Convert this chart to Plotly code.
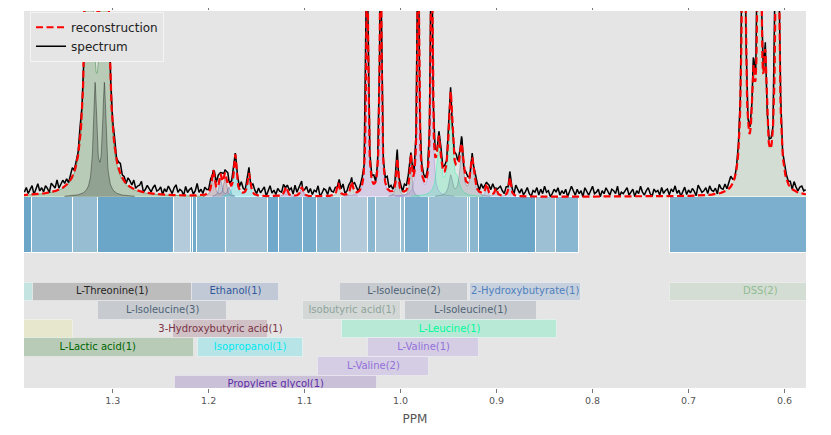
import numpy as np
import plotly.graph_objects as go

# peaks: metabolite, centre (ppm), height, half width (ppm)
peak_metab = [
    "L-Lactic acid(1)", "L-Lactic acid(1)",
    "L-Threonine(1)", "L-Threonine(1)",
    "3-Hydroxybutyric acid(1)", "3-Hydroxybutyric acid(1)",
    "Ethanol(1)", "Ethanol(1)",
    "Isopropanol(1)", "Isopropanol(1)",
    "Propylene glycol(1)", "Propylene glycol(1)",
    "Isobutyric acid(1)", "Isobutyric acid(1)",
    "L-Valine(2)", "L-Valine(2)",
    "L-Isoleucine(2)", "L-Isoleucine(2)",
    "L-Valine(1)", "L-Valine(1)",
    "L-Leucine(1)", "L-Leucine(1)", "L-Leucine(1)",
    "L-Isoleucine(1)", "L-Isoleucine(1)", "L-Isoleucine(1)",
    "2-Hydroxybutyrate(1)", "2-Hydroxybutyrate(1)", "2-Hydroxybutyrate(1)",
    "DSS(2)", "DSS(2)", "DSS(2)", "DSS(2)", "DSS(2)",
]
peak_ppm = [
    1.3247, 1.3085,
    1.3184, 1.3087,
    1.1952, 1.1830,
    1.1877, 1.1789,
    1.1723, 1.1580,
    1.1195, 1.1031,
    1.0650, 1.0510,
    1.0348, 1.0208,
    1.0035, 0.9893,
    0.9817, 0.9677,
    0.9601, 0.9479, 0.9406,
    0.9479, 0.9365, 0.9254,
    0.9104, 0.9007, 0.8862,
    0.6426, 0.6325, 0.6262, 0.6200, 0.6075,
]
peak_height = [
    2.6, 2.6,
    0.59, 0.59,
    0.13, 0.10,
    0.095, 0.05,
    0.215, 0.12,
    0.05, 0.05,
    0.07, 0.07,
    1.5, 1.5,
    0.19, 0.19,
    1.5, 1.5,
    0.27, 0.42, 0.06,
    0.11, 0.23, 0.19,
    0.06, 0.04, 0.10,
    2.0, 0.45, 2.0, 0.55, 2.0,
]
peak_hwhm = [
    0.0031, 0.0031,
    0.0021, 0.0021,
    0.0018, 0.0018,
    0.0017, 0.0017,
    0.0017, 0.0017,
    0.0017, 0.0017,
    0.0015, 0.0015,
    0.00105, 0.00105,
    0.00125, 0.00125,
    0.00105, 0.00105,
    0.0026, 0.0026, 0.0026,
    0.0022, 0.0022, 0.0022,
    0.0013, 0.0013, 0.0013,
    0.0019, 0.0019, 0.0019, 0.0019, 0.0019,
]

# residual noise of the measured spectrum, one value per 0.002 ppm from 1.392 down
noise = [
    4, 7, 3, 6, 8, 2, 5, 9, 4, 6, 3, 7, 5, 2, 8, 6, 4, 9, 3, 5, 7, 4, 6, 2,
    5, 8, 3, 6, 4, 10, 5, 3, 7, 6, 2, 5, 8, 4, 6, 3, 9, 5, 4, 7, 2, 6, 5, 8,
    3, 6, 9, 4, 5, 2, 7, 6, 4, 8, 3, 5, 6, 9, 2, 4, 7, 5, 3, 6, 8, 4, 5, 7,
    2, 6, 4, 8, 5, 3, 7, 9, 4, 6, 5, 2, 8, 4, 6, 7, 3, 5, 10, 4, 6, 3, 7, 5,
    4, 8, 2, 6, 5, 9, 3, 7, 4, 6, 8, 2, 5, 7, 3, 6, 4, 9, 5, 3, 7, 6, 2, 8,
    5, 3, 7, 4, 6, 8, 2, 5, 9, 4, 6, 3, 7, 5, 4, 8, 2, 6, 5, 7, 3, 9, 4, 6,
    6, 2, 5, 8, 4, 7, 3, 6, 5, 9, 2, 4, 7, 6, 3, 8, 5, 4, 6, 2, 7, 5, 9, 3,
    4, 7, 5, 3, 8, 6, 2, 5, 7, 4, 9, 3, 6, 5, 8, 2, 4, 7, 6, 3, 5, 10, 4, 6,
    3, 5, 8, 4, 6, 2, 7, 5, 9, 3, 6, 4, 8, 5, 2, 7, 6, 4, 5, 9, 3, 6, 7, 2,
    5, 8, 4, 6, 3, 7, 5, 2, 6, 9, 4, 5, 7, 3, 8, 6, 2, 5, 4, 7, 6, 3, 8, 5,
    6, 3, 7, 5, 9, 4, 2, 6, 8, 5, 3, 7, 4, 6, 5, 2, 9, 6, 4, 7, 3, 5, 8, 4,
    2, 6, 5, 8, 3, 7, 4, 9, 5, 6, 2, 4, 7, 5, 8, 3, 6, 4, 7, 2, 5, 9, 6, 3,
    7, 4, 6, 2, 8, 5, 3, 6, 9, 4, 5, 7, 2, 6, 4, 8, 5, 3, 7, 6, 4, 9, 2, 5,
    4, 6, 8, 3, 5, 7, 2, 6, 4, 9, 5, 3, 6, 8, 4, 2, 7, 5, 6, 3, 8, 4, 6, 7,
    3, 7, 5, 9, 4, 6, 2, 5, 8, 3, 6, 4, 7, 5, 2, 9, 6, 4, 5, 7, 3, 8, 5, 4,
    6, 2, 8, 5, 4, 7, 3, 6, 9, 5, 2, 4, 7, 6, 3, 5, 8, 4, 6, 2, 7, 5, 3, 9,
    5, 4, 7, 3, 6, 8, 2, 5, 6, 4, 9, 3, 7, 5, 4, 6, 2, 8, 5, 3, 6, 7, 4, 5,
]

# integration bins under the spectrum
bin_left = [1.400, 1.3838, 1.3414, 1.3156, 1.2365, 1.2184, 1.2164, 1.2125,
            1.1820, 1.1385, 1.1265, 1.1021, 1.0869, 1.0622, 1.0337, 1.0260,
            1.0000, 0.9952, 0.9705, 0.9302, 0.9275, 0.9184, 0.8585, 0.8380,
            0.7195]
bin_right = [1.3838, 1.3414, 1.3156, 1.2365, 1.2184, 1.2164, 1.2125, 1.1820,
             1.1385, 1.1265, 1.1021, 1.0869, 1.0622, 1.0337, 1.0260, 1.0000,
             0.9952, 0.9705, 0.9302, 0.9275, 0.9184, 0.8585, 0.8380, 0.8140,
             0.5700]
bin_weight = [0.69, 0.52, 0.44, 0.69, 0.28, 0.60, 0.65, 0.52, 0.40, 0.66,
              0.60, 0.62, 0.50, 0.28, 0.50, 0.35, 0.42, 0.60, 0.40, 0.45,
              0.50, 0.69, 0.40, 0.52, 0.60]

# metabolite windows (label rows)
box_name = ["", "L-Threonine(1)", "Ethanol(1)", "L-Isoleucine(2)",
            "2-Hydroxybutyrate(1)", "DSS(2)",
            "L-Isoleucine(3)", "Isobutyric acid(1)", "L-Isoleucine(1)",
            "", "3-Hydroxybutyric acid(1)", "L-Leucine(1)",
            "L-Lactic acid(1)", "Isopropanol(1)", "L-Valine(1)",
            "L-Valine(2)",
            "Propylene glycol(1)"]
box_left = [1.450, 1.3833, 1.2177, 1.0632, 0.9278, 0.7195,
            1.3150, 1.1015, 0.9955,
            1.450, 1.2369, 1.0608,
            1.4163, 1.2115, 1.0338,
            1.0865,
            1.2351]
box_right = [1.3833, 1.2177, 1.1265, 0.9299, 0.8125, 0.5309,
             1.1809, 0.9997, 0.8583,
             1.3410, 1.1385, 0.8372,
             1.2150, 1.1021, 0.9184,
             0.9702,
             1.0250]
box_row = [0, 0, 0, 0, 0, 0,
           1, 1, 1,
           2, 2, 2,
           3, 3, 3,
           4,
           5]

tick_vals = [1.3, 1.2, 1.1, 1.0, 0.9, 0.8, 0.7, 0.6]

# ---- styling ----
metab_color = {
    "L-Lactic acid(1)": "#006400",
    "L-Threonine(1)": "#000000",
    "Ethanol(1)": "#31589a",
    "L-Isoleucine(1)": "#506478",
    "L-Isoleucine(2)": "#506478",
    "L-Isoleucine(3)": "#506478",
    "2-Hydroxybutyrate(1)": "#4f80bd",
    "DSS(2)": "#8fbc8f",
    "Isobutyric acid(1)": "#8ea39a",
    "3-Hydroxybutyric acid(1)": "#7a3346",
    "L-Leucine(1)": "#00fa9a",
    "L-Valine(1)": "#9370db",
    "L-Valine(2)": "#9370db",
    "Isopropanol(1)": "#00e8f0",
    "Propylene glycol(1)": "#5e2ca5",
}
box_colors = ["#40e0d0"] + [metab_color[n] for n in box_name[1:9]] + ["#eaf068"] + \
    [metab_color[n] for n in box_name[10:]]
BG = "#E5E5E5"
FONT = "DejaVu Sans"


def rgba(hexc, a):
    hexc = hexc.lstrip("#")
    r, g, b = int(hexc[0:2], 16), int(hexc[2:4], 16), int(hexc[4:6], 16)
    return f"rgba({r},{g},{b},{a})"


def lorentz(x, c, h, w):
    return h * w ** 2 / ((x - c) ** 2 + w ** 2)


peak_ppm_a = np.array(peak_ppm)
xf = np.sort(np.concatenate([np.arange(0.575, 1.3955, 0.0004), peak_ppm_a]))[::-1]
recon = np.zeros_like(xf)
for c, h, w in zip(peak_ppm, peak_height, peak_hwhm):
    recon += lorentz(xf, c, h, w)

# measured spectrum = fit + residual
xc = 1.392 - 0.002 * np.arange(len(noise))
nz = (np.array(noise) - 2) * 0.008
idx = np.clip(np.round((1.392 - peak_ppm_a) / 0.002).astype(int), 0, len(noise) - 1)
xs = np.concatenate([xc, peak_ppm_a])
ns = np.concatenate([nz, nz[idx]])
order = np.argsort(-xs)
xs, ns = xs[order], ns[order]
spec = np.zeros_like(xs)
for c, h, w in zip(peak_ppm, peak_height, peak_hwhm):
    spec += lorentz(xs, c, h, w)
spec += ns

fig = go.Figure()

# bins
bl, br = np.array(bin_left), np.array(bin_right)
fig.add_trace(go.Bar(
    x=(bl + br) / 2, y=[0.30] * len(bl), base=-0.30, width=bl - br,
    marker=dict(color=[rgba("#348ABD", a) for a in bin_weight],
                line=dict(color="white", width=1)),
    showlegend=False, hoverinfo="skip"))

# metabolite label boxes
xl, xr = np.array(box_left), np.array(box_right)
row_y = [-0.51 - 0.1 * r for r in box_row]
fig.add_trace(go.Bar(
    orientation="h", y=row_y, x=xl - xr, base=xr, width=0.1,
    marker=dict(color=[rgba(c, 0.175 if c == "#000000" else 0.2) for c in box_colors],
                line=dict(color="rgba(255,255,255,0.35)", width=1)),
    showlegend=False, hoverinfo="skip"))
fig.add_trace(go.Scatter(
    x=(xl + xr) / 2, y=row_y, mode="text", text=box_name,
    textfont=dict(family=FONT, size=10,
                  color=["#262626" if c == "#000000" else c for c in box_colors]),
    cliponaxis=True, showlegend=False, hoverinfo="skip"))

# component fills
for name in dict.fromkeys(peak_metab):
    comp = np.zeros_like(xf)
    for m, c, h, w in zip(peak_metab, peak_ppm, peak_height, peak_hwhm):
        if m == name:
            comp += lorentz(xf, c, h, w)
    keep = comp > 0.004
    col = metab_color[name]
    fig.add_trace(go.Scatter(
        x=xf[keep], y=comp[keep], mode="lines", fill="tozeroy",
        fillcolor=rgba(col, 0.2), line=dict(color=rgba(col, 0.45), width=0.8),
        showlegend=False, hoverinfo="skip"))

fig.add_trace(go.Scatter(
    x=xs, y=spec, mode="lines", name="spectrum", legendrank=2,
    line=dict(color="black", width=1.5)))
fig.add_trace(go.Scatter(
    x=xf, y=recon, mode="lines", name="reconstruction", legendrank=1,
    line=dict(color="red", width=2.2, dash="7px,3.5px")))

# page body keeps an 8px margin, so the figure is sized to the window minus it
fig.update_layout(
    width=815, height=419, autosize=False,
    margin=dict(l=16, r=17, t=3, b=39),
    paper_bgcolor="white", plot_bgcolor=BG,
    barmode="overlay", bargap=0,
    font=dict(family=FONT, color="#555555"),
    legend=dict(x=0.0077, y=0.998, xanchor="left", yanchor="top",
                bgcolor=BG, bordercolor="#f4f4f4", borderwidth=1,
                font=dict(family=FONT, size=12, color="#222222"),
                tracegroupgap=0),
)
fig.update_xaxes(
    range=[1.3924, 0.5776], tickvals=tick_vals,
    ticktext=[f"{v:.1f}" for v in tick_vals],
    ticks="outside", ticklen=4, tickcolor="#777777", tickwidth=1,
    mirror="ticks", showline=False, showgrid=False, zeroline=False,
    tickfont=dict(family=FONT, size=9.5, color="#555555"),
    title=dict(text="PPM", font=dict(family=FONT, size=12, color="#555555"), standoff=9),
)
fig.update_yaxes(range=[-1.027, 1.0], showticklabels=False, showgrid=False,
                 zeroline=False, ticks="", showline=False)

fig.write_html("out.html")
